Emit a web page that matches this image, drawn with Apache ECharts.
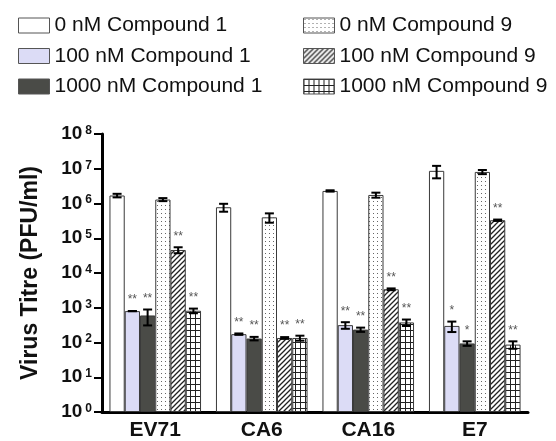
<!DOCTYPE html>
<html lang="en">
<head>
    <meta charset="UTF-8">
    <title>Virus titre</title>
    <style>
        html, body { margin: 0; padding: 0; background: #fff; }
        #chart { width: 556px; height: 441px; }
    </style>
</head>
<body>
<div id="chart"></div>
<script src="https://cdn.jsdelivr.net/npm/echarts@6/dist/echarts.min.js"></script>
<script>
    // categories
    var viruses = ['EV71', 'CA6', 'CA16', 'E7'];
    var seriesNames = ['0 nM Compound 1', '100 nM Compound 1', '1000 nM Compound 1',
                       '0 nM Compound 9', '100 nM Compound 9', '1000 nM Compound 9'];

    // mean titre (PFU/ml), one per virus
    var c1_0    = [1.7e6, 7.8e5, 2.3e6, 8.7e6];
    var c1_100  = [800, 174, 316, 300];
    var c1_1000 = [600, 130, 235, 94];
    var c9_0    = [1.3e6, 4.0e5, 1.76e6, 8.1e6];
    var c9_100  = [4.6e4, 135, 3400, 3.3e5];
    var c9_1000 = [820, 135, 378, 87];

    // standard deviations
    var sd1_0    = [2e5, 2e5, 1e5, 3.4e6];
    var sd1_100  = [0, 8, 68, 100];
    var sd1_1000 = [290, 15, 33, 14];
    var sd9_0    = [1.3e5, 1.2e5, 2.9e5, 1.1e6];
    var sd9_100  = [9000, 8, 200, 1.5e4];
    var sd9_1000 = [125, 22, 80, 21];

    // significance marks
    var st1_0    = ['', '', '', ''];
    var st1_100  = ['**', '**', '**', '*'];
    var st1_1000 = ['**', '**', '**', '*'];
    var st9_0    = ['', '', '', ''];
    var st9_100  = ['**', '**', '**', '**'];
    var st9_1000 = ['**', '**', '**', '**'];

    var means = [c1_0, c1_100, c1_1000, c9_0, c9_100, c9_1000];
    var sds = [sd1_0, sd1_100, sd1_1000, sd9_0, sd9_100, sd9_1000];
    var stars = [st1_0, st1_100, st1_1000, st9_0, st9_100, st9_1000];

    var FONT = '"Liberation Sans", Arial, sans-serif';
    var CAT_GAP = 0.14;

    // fill patterns
    function makePattern(kind) {
        var c = document.createElement('canvas');
        var ctx = c.getContext('2d');
        if (kind === 'dots') {
            c.width = 4; c.height = 4;
            ctx.fillStyle = '#fff'; ctx.fillRect(0, 0, 4, 4);
            ctx.fillStyle = '#666'; ctx.fillRect(1, 1, 1, 1);
        } else if (kind === 'hatch') {
            c.width = 5; c.height = 5;
            ctx.fillStyle = '#fff'; ctx.fillRect(0, 0, 5, 5);
            ctx.strokeStyle = '#222'; ctx.lineWidth = 1.3;
            ctx.beginPath();
            ctx.moveTo(-1, 6); ctx.lineTo(6, -1);
            ctx.moveTo(-1, 1); ctx.lineTo(1, -1);
            ctx.moveTo(4, 6); ctx.lineTo(6, 4);
            ctx.stroke();
        } else {
            c.width = 5; c.height = 6;
            ctx.fillStyle = '#fff'; ctx.fillRect(0, 0, 5, 6);
            ctx.fillStyle = '#222';
            ctx.fillRect(0, 0, 5, 1);
            ctx.fillRect(0, 0, 1, 6);
        }
        return { image: c, repeat: 'repeat' };
    }

    var fills = ['#ffffff', '#dcdcf6', '#4a4b47',
                 makePattern('dots'), makePattern('hatch'), makePattern('grid')];

    var series = [];
    for (var i = 0; i < 6; i++) {
        series.push({
            name: seriesNames[i],
            type: 'bar',
            data: means[i],
            barGap: '0%',
            barCategoryGap: (CAT_GAP * 100) + '%',
            itemStyle: { color: fills[i], borderColor: '#3a3a3a', borderWidth: 1 }
        });
    }

    // error bars + stars
    var errData = [];
    for (var i = 0; i < 6; i++) {
        for (var j = 0; j < viruses.length; j++) {
            errData.push([j, i, means[i][j], sds[i][j], stars[i][j]]);
        }
    }

    function renderErr(params, api) {
        var cat = api.value(0), k = api.value(1), m = api.value(2), sd = api.value(3);
        var star = errData[params.dataIndex][4];
        var band = params.coordSys.width / viruses.length;
        var barW = band * (1 - CAT_GAP) / 6;
        var x = api.coord([cat, m])[0] + (k - 2.5) * barW;
        var yHi = api.coord([cat, m + sd])[1];
        var yLo = api.coord([cat, Math.max(m - sd, 1)])[1];
        var cap = 4.5;
        var ls = { stroke: '#000', lineWidth: 2 };
        var children = [
            { type: 'line', shape: { x1: x, y1: yHi, x2: x, y2: yLo }, style: ls },
            { type: 'line', shape: { x1: x - cap, y1: yHi, x2: x + cap, y2: yHi }, style: ls },
            { type: 'line', shape: { x1: x - cap, y1: yLo, x2: x + cap, y2: yLo }, style: ls }
        ];
        if (star) {
            children.push({
                type: 'text',
                style: {
                    text: star, x: x, y: yHi - 5,
                    align: 'center', verticalAlign: 'bottom',
                    fontSize: 12, fontFamily: FONT, fill: '#555'
                }
            });
        }
        return { type: 'group', children: children };
    }

    series.push({
        type: 'custom',
        name: 'err',
        data: errData,
        renderItem: renderErr,
        z: 5,
        silent: true
    });

    var legendBase = {
        orient: 'vertical',
        top: 10,
        itemWidth: 31,
        itemHeight: 15,
        itemGap: 9.5,
        icon: 'rect',
        itemStyle: { borderColor: '#555', borderWidth: 1 },
        textStyle: { fontSize: 21, lineHeight: 21, color: '#111', fontFamily: FONT }
    };

    var option = {
        animation: false,
        backgroundColor: '#fff',
        legend: [
            Object.assign({}, legendBase, { data: seriesNames.slice(0, 3), left: 13 }),
            Object.assign({}, legendBase, { data: seriesNames.slice(3), left: 298 })
        ],
        grid: { left: 102, right: 28, top: 134, bottom: 29, outerBoundsMode: 'none' },
        xAxis: {
            type: 'category',
            data: viruses,
            axisLine: { lineStyle: { color: '#000', width: 3 } },
            axisTick: { show: false },
            axisLabel: { fontSize: 21, fontWeight: 'bold', color: '#111', fontFamily: FONT, margin: 8 }
        },
        yAxis: {
            type: 'log',
            logBase: 10,
            min: 1,
            max: 1e8,
            interval: 1,
            name: 'Virus Titre (PFU/ml)',
            nameLocation: 'middle',
            nameGap: 60,
            nameTextStyle: { fontSize: 23, fontWeight: 'bold', color: '#111', fontFamily: FONT },
            axisLine: { show: true, lineStyle: { color: '#000', width: 3 } },
            axisTick: { show: true, length: 8, lineStyle: { color: '#000', width: 2 } },
            splitLine: { show: false },
            axisLabel: {
                margin: 10,
                formatter: function (v) {
                    return '{b|10}{s|' + Math.round(Math.log10(v)) + '}';
                },
                rich: {
                    b: { fontSize: 19, fontWeight: 'bold', color: '#111', fontFamily: FONT },
                    s: { fontSize: 12, fontWeight: 'bold', color: '#111', fontFamily: FONT,
                         verticalAlign: 'top', padding: [0, 0, 0, 3] }
                }
            }
        },
        series: series
    };

    var myChart = echarts.init(document.getElementById('chart'));
    myChart.setOption(option);
</script>
</body>
</html>
